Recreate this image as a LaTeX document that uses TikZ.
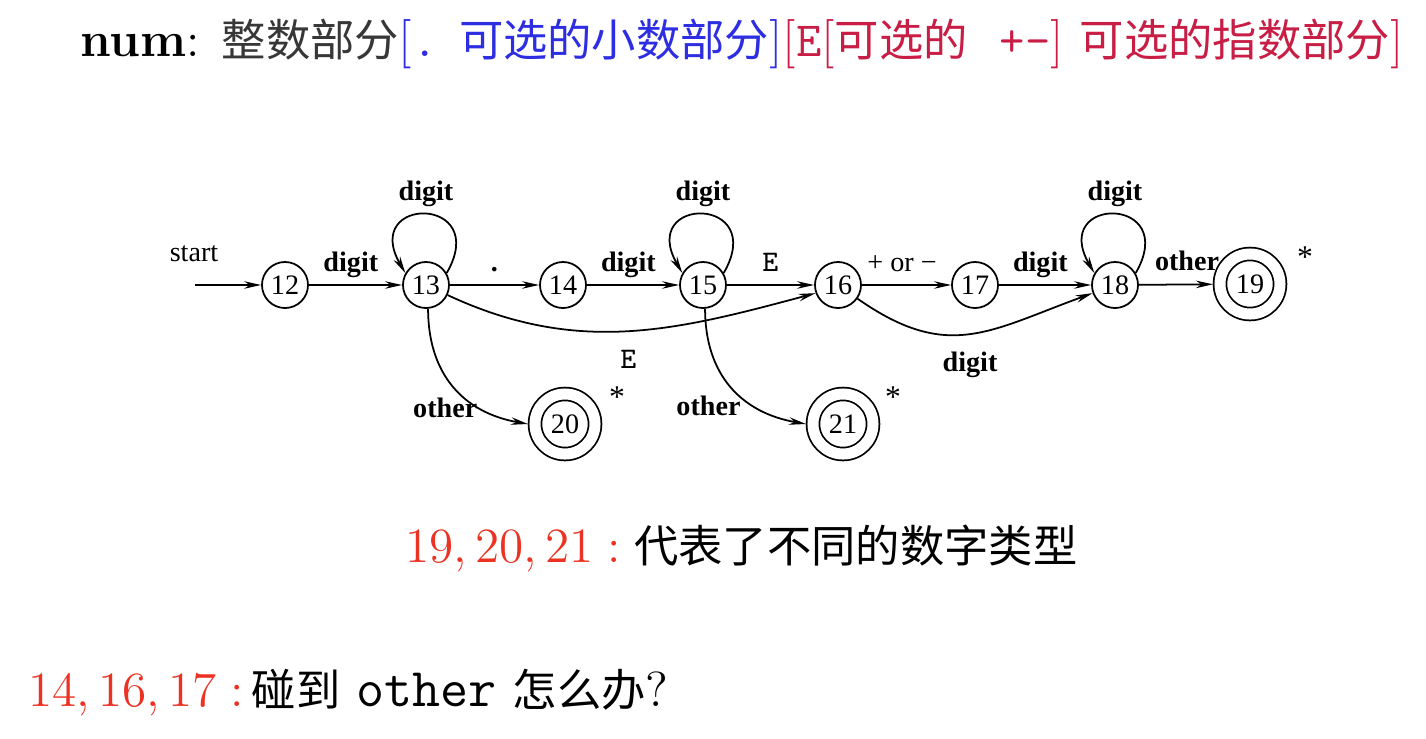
\documentclass[tikz,border=0pt]{standalone}
\usepackage{fontspec}
\usepackage{xcolor}
\usepackage{tikz}
\usetikzlibrary{arrows.meta,positioning,calc}
\newfontfamily\cjk{Noto Sans CJK SC}[Scale=0.9]
\newfontfamily\dfaserif{Liberation Serif}
\definecolor{numBlue}{RGB}{45,45,225}
\definecolor{numRose}{RGB}{200,30,70}
\definecolor{numRed}{RGB}{235,50,35}
\definecolor{numGray}{RGB}{55,55,55}
\newcommand{\zh}[1]{{\cjk #1}}

\begin{document}
\begin{tikzpicture}[x=0.01cm,y=0.01cm,
  dfastate/.style={circle,draw,line width=0.5pt,minimum size=0.46cm,inner sep=0pt,
                   font=\dfaserif\fontsize{8}{9}\selectfont},
  dfaaccept/.style={dfastate,double,double distance=0.11cm,minimum size=0.6cm,outer sep=0.07cm},
  trans/.style={-{Stealth[length=0.17cm,width=0.075cm]},line width=0.5pt},
  lbl/.style={font=\dfaserif\bfseries\fontsize{8}{9}\selectfont,inner sep=2pt,
              text height=0.2cm,text depth=0.06cm},
  lbltt/.style={lbl,font=\ttfamily\fontsize{8.5}{9}\selectfont},
  note/.style={font=\fontsize{14}{17}\selectfont,inner sep=0pt,anchor=base west}]
\useasboundingbox (0,0) rectangle (1426,-739);
% heading line
\node[note] (head) at (80,-56) {\textbf{num}: \textcolor{numGray}{\zh{整数部分}}%
  \textcolor{numBlue}{[\texttt{.} \zh{可选的小数部分}]}%
  \textcolor{numRose}{[\texttt{E}[\zh{可选的}\ \ \texttt{+-}] \zh{可选的指数部分}]}};
% states
\foreach \n/\x in {12/285,13/426,14/563,15/703,16/838,17/975,18/1115}
  \node[dfastate] (s\n) at (\x,-285) {\n};
\node[dfaaccept] (s19) at (1250,-284) {19};
\node[dfaaccept] (s20) at (565,-424) {20};
\node[dfaaccept] (s21) at (843,-424) {21};
\foreach \n/\dx in {19/55,20/52,21/50}
  \node[font=\dfaserif\fontsize{9}{10}\selectfont] (ast\n) at ($(s\n)+(\dx,27)$) {*};
% start
\coordinate (entry) at (195,-285);
\node[font=\dfaserif\fontsize{8}{9}\selectfont] (startlbl) at (194,-254) {start};
\draw[trans] (entry) -- (s12);
% main row
\draw[trans] (s12) -- node[lbl,above,pos=0.45] {digit} (s13);
\draw[trans] (s13) -- node[lbl,above] {.} (s14);
\draw[trans] (s14) -- node[lbl,above,pos=0.45] {digit} (s15);
\draw[trans] (s15) -- node[lbltt,above] {E} (s16);
\draw[trans] (s16) -- node[lbl,above,font=\dfaserif\fontsize{8}{9}\selectfont,pos=0.45] {+ or −} (s17);
\draw[trans] (s17) -- node[lbl,above,pos=0.45] {digit} (s18);
\draw[trans] (s18) -- node[lbl,above,pos=0.65] {other} (s19);
% loops
\foreach \n in {13,15,18}
  \draw[trans] (s\n.30) .. controls +(60:0.9cm) and +(120:0.9cm) .. node[lbl,above] {digit} (s\n.150);
% bends
\draw[trans] (s13.-25) to[out=-25,in=195] node[lbltt,below=0.1cm] {E} (s16.200);
\draw[trans] (s16.-35) to[out=-35,in=200,looseness=1.2] node[lbl,below=0.1cm] {digit} (s18.200);
\draw[trans] (s13.-85) to[out=-90,in=170,looseness=1.1] node[lbl,pos=0.75,left] {other} (s20.west);
\draw[trans] (s15.-85) to[out=-90,in=170,looseness=1.1] node[lbl,pos=0.72,left=0.1cm] {other} (s21.west);
% notes
\node[note] (types) at (405,-562) {\textcolor{numRed}{19,\,20,\,21\;:}\;\zh{代表了不同的数字类型}};
\node[note] (ask) at (28,-706) {\textcolor{numRed}{14,\,16,\,17\;:}\,\zh{碰到} {\fontsize{15.5}{17}\selectfont\texttt{other}} \zh{怎么办}?};
\end{tikzpicture}
\end{document}
